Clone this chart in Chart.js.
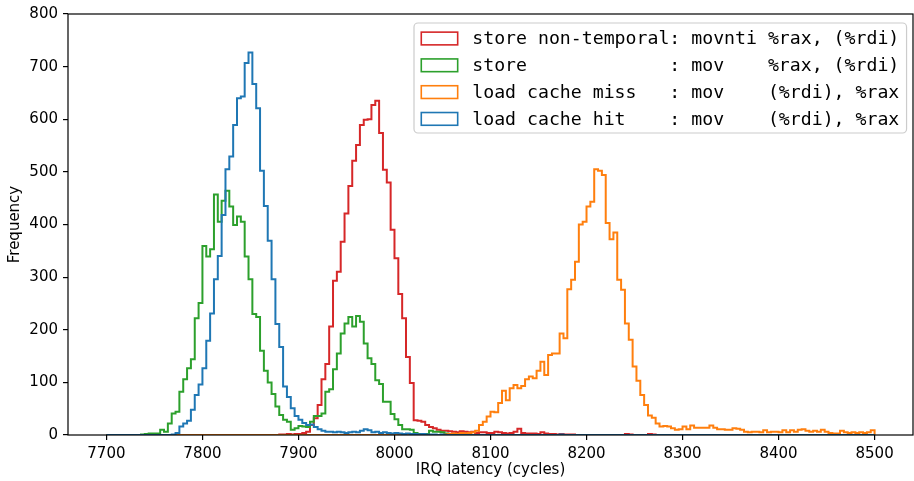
<!DOCTYPE html>
<html>
<head>
<meta charset="utf-8">
<script src="https://cdn.jsdelivr.net/npm/chart.js@4/dist/chart.umd.min.js"></script>
<style>
  html, body { margin: 0; padding: 0; background: #ffffff; }
  canvas { display: block; }
</style>
</head>
<body>
<canvas id="chart" width="914" height="481"></canvas>
<script>
// Histogram bins: 200 bins of 4 cycles from 7700 to 8500
const binStart = 7700;
const binWidth = 4;

const xTicks = [7700, 7800, 7900, 8000, 8100, 8200, 8300, 8400, 8500];
const yTicks = [0, 100, 200, 300, 400, 500, 600, 700, 800];

// Legend text, top to bottom
const legendLabels = [
  'store non-temporal: movnti %rax, (%rdi)',
  'store             : mov    %rax, (%rdi)',
  'load cache miss   : mov    (%rdi), %rax',
  'load cache hit    : mov    (%rdi), %rax'
];

// Counts per bin (index 0 = 7700..7704)
const loadHitCounts = [
  0,0,0,0,0,0,0,0,0,0, 0,0,0,0,0,0,0,1,4,16,
  22,27,48,76,96,127,179,231,296,340, 418,505,529,589,640,643,707,727,667,621,
  502,435,369,296,211,167,92,72,51,36, 29,23,19,20,15,11,8,6,6,5,
  6,5,4,5,6,5,8,11,9,5, 6,4,5,4,3,4,3,2,3,2,
  2,1,2,1,1,1,0,1,0,0, 0,0,0,0,0,0,0,0,0,0,
  0,0,0,0,0,0,0,0,0,0, 0,0,0,0,0,0,0,0,1,0,
  0,0,0,0,0,0,0,0,0,0, 0,0,0,0,0,0,0,0,0,0,
  0,0,0,0,0,0,0,0,0,0, 0,0,0,0,0,0,0,0,0,0,
  0,0,0,0,0,0,0,0,0,0, 0,0,0,0,0,0,0,0,0,0,
  0,0,0,0,0,0,0,0,0,0, 0,0,0,0,0,0,0,0,0,0
];

const loadMissCounts = [
  0,0,0,0,0,0,0,0,0,0, 0,0,0,0,0,0,0,0,0,0,
  0,0,0,0,0,0,0,0,0,0, 0,0,0,0,0,0,0,0,0,0,
  0,0,0,0,0,0,0,0,0,0, 0,0,0,0,0,0,0,0,0,0,
  0,0,0,0,0,0,0,0,0,0, 0,0,0,0,0,0,0,0,0,0,
  0,0,0,0,0,0,0,0,1,2, 3,2,4,3,4,5,8,19,25,35,
  44,43,61,84,66,89,95,89,93,106, 111,108,122,139,114,152,155,155,193,184,
  277,295,329,400,405,434,443,505,502,494, 403,372,385,295,276,212,181,130,103,76,
  57,37,33,22,16,17,16,13,10,11, 16,11,18,14,14,14,14,18,14,11,
  11,10,10,13,12,10,6,5,6,6, 5,9,5,6,6,5,9,5,9,6,
  10,11,8,6,8,6,10,6,4,3, 3,8,5,4,5,4,5,4,5,9
];

const storeCounts = [
  0,0,0,0,0,0,0,0,0,1, 2,3,3,3,10,6,22,41,44,82,
  106,127,144,222,251,359,339,353,457,405, 445,464,434,399,415,405,339,296,230,224,
  160,122,100,78,54,38,29,25,10,13, 17,16,15,25,36,36,41,82,87,125,
  155,193,212,224,206,226,215,174,146,135, 104,97,63,63,40,30,19,11,11,10,
  4,2,2,2,8,6,6,5,3,2, 2,1,1,0,0,0,0,0,0,0,
  0,0,0,0,0,0,0,0,0,0, 0,0,0,0,0,0,0,0,0,0,
  0,0,0,0,0,0,0,0,0,0, 0,0,0,0,0,0,0,0,0,0,
  0,0,0,0,0,0,0,0,0,0, 0,0,0,0,0,0,0,0,0,0,
  0,0,0,0,0,0,0,0,0,0, 0,0,0,0,0,0,0,0,0,0,
  0,0,0,0,0,0,0,0,0,0, 0,0,0,0,0,0,0,0,0,0
];

const storeNtCounts = [
  0,0,0,0,0,0,0,0,0,0, 0,0,0,0,0,0,0,0,0,0,
  0,0,0,0,0,0,0,0,0,0, 0,0,0,0,0,0,0,0,0,0,
  0,0,0,0,0,1,1,2,1,2, 2,4,6,19,32,57,106,135,206,293,
  310,367,421,473,521,551,589,599,600,627, 635,574,504,480,390,336,268,222,148,99,
  28,27,25,19,15,13,10,8,8,7, 6,5,7,6,5,6,4,5,5,4,
  4,6,5,4,3,4,6,12,4,3, 3,3,2,5,3,2,2,1,2,1,
  1,1,0,0,0,0,0,0,0,0, 0,0,0,0,0,2,1,0,0,0,
  0,2,1,0,0,0,0,0,0,0, 0,0,0,0,0,0,0,0,0,0,
  0,0,0,0,0,0,0,0,0,0, 0,0,0,0,0,0,0,0,0,0,
  0,0,0,0,0,0,0,0,0,0, 0,0,0,0,0,0,0,0,0,0
];

const colors = {
  hit: '#1f77b4',
  miss: '#ff7f0e',
  store: '#2ca02c',
  storeNt: '#d62728'
};

// Step outline of a histogram: up from the baseline at the first edge,
// across every bin, and back down at the last edge.
function outline(counts) {
  const pts = [{ x: binStart, y: 0 }];
  counts.forEach((c, i) => pts.push({ x: binStart + i * binWidth, y: c }));
  const end = binStart + counts.length * binWidth;
  pts.push({ x: end, y: counts[counts.length - 1] });
  pts.push({ x: end, y: 0 });
  return pts;
}

function stepDataset(label, counts, color) {
  return {
    label,
    data: outline(counts),
    borderColor: color,
    backgroundColor: color,
    borderWidth: 2,
    pointRadius: 0,
    pointHoverRadius: 0,
    stepped: 'before',
    fill: false,
    tension: 0,
    borderJoinStyle: 'miter'
  };
}

const tickFont = { family: '"DejaVu Sans", sans-serif', size: 15 };

// Frame around the plotting area
const framePlugin = {
  id: 'frame',
  afterDatasetsDraw(chart) {
    const { ctx, chartArea: a } = chart;
    ctx.save();
    ctx.strokeStyle = '#000';
    ctx.lineWidth = 1.2;
    ctx.strokeRect(a.left, a.top, a.right - a.left, a.bottom - a.top);
    ctx.restore();
  }
};

// Boxed legend in the upper right corner of the plot
const boxLegendPlugin = {
  id: 'boxLegend',
  afterDraw(chart) {
    const ctx = chart.ctx;
    const fs = 18.2;
    const legendColors = [colors.storeNt, colors.store, colors.miss, colors.hit];
    ctx.save();
    ctx.font = fs + 'px "DejaVu Sans Mono", monospace';
    const textW = Math.max(...legendLabels.map(t => ctx.measureText(t).width));
    const pad = 0.4 * fs, handleW = 2.0 * fs, handleH = 0.7 * fs, gap = 0.8 * fs;
    const rowH = 26.8;
    const left = 414;
    const top = 23;
    const firstRow = 15.5;
    const w = pad * 2 + handleW + gap + textW;
    const h = 110;

    ctx.beginPath();
    ctx.roundRect(left, top, w, h, 4);
    ctx.fillStyle = 'rgba(255,255,255,0.8)';
    ctx.fill();
    ctx.strokeStyle = '#cccccc';
    ctx.lineWidth = 1.2;
    ctx.stroke();

    legendLabels.forEach((label, k) => {
      const cy = top + firstRow + k * rowH;
      const hx = left + pad;
      ctx.strokeStyle = legendColors[k];
      ctx.lineWidth = 1.6;
      ctx.strokeRect(hx, cy - handleH / 2, handleW, handleH);
      ctx.fillStyle = '#000';
      ctx.textBaseline = 'middle';
      ctx.textAlign = 'left';
      ctx.fillText(label, hx + handleW + gap, cy + 1);
    });
    ctx.restore();
  }
};

new Chart(document.getElementById('chart'), {
  type: 'line',
  data: {
    // dataset 0 is drawn on top
    datasets: [
      stepDataset(legendLabels[3], loadHitCounts, colors.hit),
      stepDataset(legendLabels[2], loadMissCounts, colors.miss),
      stepDataset(legendLabels[1], storeCounts, colors.store),
      stepDataset(legendLabels[0], storeNtCounts, colors.storeNt)
    ]
  },
  options: {
    responsive: false,
    animation: false,
    events: [],
    layout: { padding: { top: 14, right: 1, left: 0, bottom: 0 } },
    plugins: {
      legend: { display: false },
      tooltip: { enabled: false }
    },
    scales: {
      x: {
        type: 'linear',
        min: 7660,
        max: 8540,
        afterBuildTicks: s => { s.ticks = xTicks.map(v => ({ value: v })); },
        afterFit: s => { s.height = 46; },
        ticks: {
          color: '#000',
          font: tickFont,
          padding: 5,
          maxRotation: 0,
          autoSkip: false,
          callback: v => String(v)
        },
        grid: {
          display: true,
          drawOnChartArea: false,
          drawTicks: true,
          tickLength: 5,
          color: '#000',
          lineWidth: 1.2
        },
        border: { display: false },
        title: {
          display: true,
          text: 'IRQ latency (cycles)',
          color: '#000',
          font: tickFont,
          padding: { top: 0, bottom: 2 }
        }
      },
      y: {
        type: 'linear',
        min: 0,
        max: 800,
        afterBuildTicks: s => { s.ticks = yTicks.map(v => ({ value: v })); },
        afterFit: s => { s.width = 68; },
        ticks: {
          color: '#000',
          font: tickFont,
          padding: 5,
          autoSkip: false,
          callback: v => String(v)
        },
        grid: {
          display: true,
          drawOnChartArea: false,
          drawTicks: true,
          tickLength: 5,
          color: '#000',
          lineWidth: 1.2
        },
        border: { display: false },
        title: {
          display: true,
          text: 'Frequency',
          color: '#000',
          font: tickFont,
          padding: { top: 6, bottom: 0 }
        }
      }
    }
  },
  plugins: [framePlugin, boxLegendPlugin]
});
</script>
</body>
</html>
